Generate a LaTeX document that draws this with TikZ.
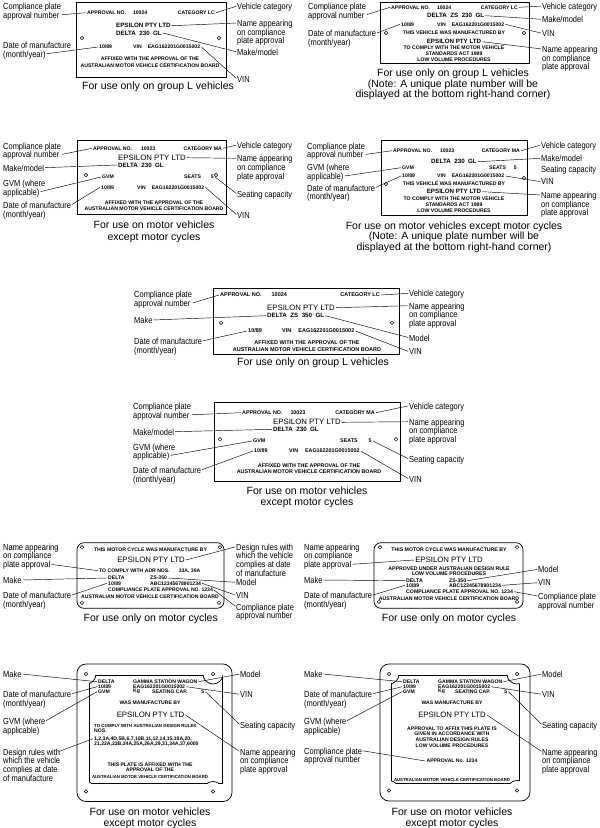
\documentclass[tikz,border=0pt]{standalone}
\usepackage{fontspec}
\setmainfont{Liberation Sans}
\newfontfamily\lblfont[FakeStretch=0.85]{Liberation Sans}
\newcommand\pts{5.15}

\begin{document}
\begin{tikzpicture}[x=1pt, y=-1pt,
  plate/.style={draw, line width=0.75pt},
  hole/.style={draw, line width=0.45pt},
  ptxt/.style={inner sep=1pt, font=\fontsize{\pts}{\pts}\selectfont\bfseries},
  psmall/.style={inner sep=1pt, font=\fontsize{4.3}{5}\selectfont\bfseries},
  pbold/.style={inner sep=1pt, font=\fontsize{6.2}{7}\selectfont\bfseries},
  pbig/.style={inner sep=1pt, font=\fontsize{7.8}{9}\selectfont},
  lbl/.style={anchor=north west, yshift=3.2pt, inner sep=0pt, align=left,
    font=\lblfont\fontsize{8.8}{8.8}\selectfont},
  captxt/.style={anchor=north, yshift=3.8pt, inner sep=0pt, align=center,
    font=\fontsize{10.5}{11.6}\selectfont},
  capnote/.style={font=\fontsize{10.5}{9.3}\selectfont},
  lead/.style={line width=0.45pt, shorten <=0.8pt}]
\useasboundingbox (0,0) rectangle (600,828);

% group L, top left
\begin{scope}[name prefix=gla-]
\draw[plate] (76,2) rectangle (226,77);
\foreach \hx in {82,219} \draw[hole] (\hx,38) circle (1.8pt);
\node[ptxt, anchor=west] (apno) at (86,12.7) {APPROVAL NO.\hspace{7pt}10024};
\node[ptxt, anchor=east] (cat) at (216,12.7) {CATEGORY LC};
\node[pbold, anchor=west] (eps) at (115,25.7) {EPSILON PTY LTD};
\node[pbold, anchor=west] (mm) at (115,33) {DELTA\ \ 230\ \ GL};
\node[ptxt, anchor=west] (dom) at (98,47) {10/89};
\node[ptxt, anchor=west] (vin) at (132,47) {VIN\hspace{6pt}EAG162201G0015002};
\node[ptxt] (aff1) at (150,59) {AFFIXED WITH THE APPROVAL OF THE};
\node[ptxt] (aff2) at (150,66) {AUSTRALIAN MOTOR VEHICLE CERTIFICATION BOARD};
\node[lbl] (cplab) at (3,6) {Compliance plate\\approval number};
\node[lbl] (dmlab) at (3,45) {Date of manufacture\\(month/year)};
\node[lbl] (vclab) at (237,6) {Vehicle category};
\node[lbl] (nmlab) at (237,23) {Name appearing\\on compliance\\plate approval};
\node[lbl] (mklab) at (237,52) {Make/model};
\node[lbl] (vinlab) at (237,79) {VIN};
\node[captxt] (capt) at (158,85) {For use only on group L vehicles};
\draw[lead] ([yshift=-12pt]cplab.north east) -- (apno.west);
\draw[lead] ([xshift=-25pt,yshift=-12pt]dmlab.north east) -- (dom.west);
\draw[lead] ([yshift=-3.2pt]vclab.north west) -- (cat.east);
\draw[lead] ([yshift=-3.2pt]nmlab.north west) -- (eps.east);
\draw[lead] ([yshift=-3.2pt]mklab.north west) -- (mm.east);
\draw[lead] ([yshift=-3.2pt]vinlab.north west) -- (vin.east);
\end{scope}

% group L, top right
\begin{scope}[name prefix=glb-]
\draw[plate] (380,2) rectangle (529,63);
\foreach \hx in {386,524} \draw[hole] (\hx,33) circle (1.8pt);
\node[ptxt, anchor=west] (apno) at (390,7.3) {APPROVAL NO.\hspace{7pt}10024};
\node[ptxt, anchor=east] (cat) at (519,7.3) {CATEGORY LC};
\node[pbold, anchor=west] (mm) at (426,15.7) {DELTA\ \ ZS\ \ 230\ \ GL};
\node[ptxt, anchor=west] (dom) at (400,24.3) {10/89};
\node[ptxt, anchor=west] (vin) at (436,24.3) {VIN\hspace{6pt}EAG162201G0015002};
\node[ptxt] (mfd) at (454,33) {THIS VEHICLE WAS MANUFACTURED BY};
\node[pbold] (eps) at (454,41.7) {EPSILON PTY LTD};
\node[ptxt] (c1) at (454,47.7) {TO COMPLY WITH THE MOTOR VEHICLE};
\node[ptxt] (c2) at (454,53.7) {STANDARDS ACT 1989};
\node[ptxt] (c3) at (454,59.7) {LOW VOLUME PROCEDURES};
\node[lbl] (cplab) at (308,6) {Compliance plate\\approval number};
\node[lbl] (dmlab) at (308,33.3) {Date of manufacture\\(month/year)};
\node[lbl] (vclab) at (542,6) {Vehicle category};
\node[lbl] (mklab) at (542,19.3) {Make/model};
\node[lbl] (vinlab) at (542,33.3) {VIN};
\node[lbl] (nmlab) at (542,49) {Name appearing\\on compliance\\plate approval};
\node[captxt, capnote] (capt) at (453,72.3) {For use only on group L vehicles\\(Note: A unique plate number will be\\displayed at the bottom right-hand corner)};
\draw[lead] ([yshift=-12pt]cplab.north east) -- (apno.west);
\draw[lead] ([yshift=-3.2pt]dmlab.north east) -- (dom.west);
\draw[lead] ([yshift=-3.2pt]vclab.north west) -- (cat.east);
\draw[lead] ([yshift=-3.2pt]mklab.north west) -- (mm.east);
\draw[lead] ([yshift=-3.2pt]vinlab.north west) -- (vin.east);
\draw[lead] ([yshift=-3.2pt]nmlab.north west) -- (eps.east);
\end{scope}

% motor vehicles, second row left
\begin{scope}[name prefix=mva-]
\draw[plate] (77,140.7) rectangle (226,214.3);
\foreach \hx in {86,216} \draw[hole] (\hx,175) circle (1.8pt);
\node[ptxt, anchor=west] (apno) at (92,148.3) {APPROVAL NO.\hspace{9pt}10023};
\node[ptxt, anchor=east] (cat) at (223,148.3) {CATEGORY MA};
\node[pbig, anchor=west] (eps) at (117,157.7) {EPSILON PTY LTD};
\node[pbold, anchor=west] (mm) at (117,165) {DELTA\ \ 230\ \ GL};
\node[ptxt, anchor=west] (gvm) at (101,177) {GVM};
\node[ptxt, anchor=west] (seats) at (183,177) {SEATS\hspace{10pt}5};
\node[ptxt, anchor=west] (dom) at (100,187.3) {10/89};
\node[ptxt, anchor=west] (vin) at (136,187.3) {VIN\hspace{6pt}EAG162201G0015002};
\node[ptxt] (aff1) at (154,202.3) {AFFIXED WITH THE APPROVAL OF THE};
\node[ptxt] (aff2) at (154,208.3) {AUSTRALIAN MOTOR VEHICLE CERTIFICATION BOARD};
\node[lbl] (cplab) at (3,145.7) {Compliance plate\\approval number};
\node[lbl] (mklab) at (3,167.7) {Make/model};
\node[lbl] (gvmlab) at (3,183) {GVM (where\\applicable)};
\node[lbl] (dmlab) at (3,205) {Date of manufacture\\(month/year)};
\node[lbl] (vclab) at (237,145) {Vehicle category};
\node[lbl] (nmlab) at (237,158.3) {Name appearing\\on compliance\\plate approval};
\node[lbl] (sclab) at (237,194) {Seating capacity};
\node[lbl] (vinlab) at (237,215) {VIN};
\node[captxt] (capt) at (154,224.7) {For use on motor vehicles\\except motor cycles};
\draw[lead] ([yshift=-12pt]cplab.north east) -- (apno.west);
\draw[lead] ([yshift=-3.2pt]mklab.north east) -- (mm.west);
\draw[lead] ([xshift=-5.5pt,yshift=-12pt]gvmlab.north east) -- (gvm.west);
\draw[lead] ([yshift=-3.2pt]dmlab.north east) -- (dom.west);
\draw[lead] ([yshift=-3.2pt]vclab.north west) -- (cat.east);
\draw[lead] ([yshift=-3.2pt]nmlab.north west) -- (eps.east);
\draw[lead] ([yshift=-3.2pt]sclab.north west) -- (seats.east);
\draw[lead] ([yshift=-3.2pt]vinlab.north west) -- (vin.east);
\end{scope}

% motor vehicles, second row right
\begin{scope}[name prefix=mvb-]
\draw[plate] (381,140.7) rectangle (527,215);
\draw[hole] (386,184) circle (1.8pt);
\draw[hole] (524,178) circle (1.8pt);
\node[ptxt, anchor=west] (apno) at (392,150.7) {APPROVAL NO.\hspace{8pt}10023};
\node[ptxt, anchor=east] (cat) at (521,150.7) {CATEGORY MA};
\node[pbold, anchor=west] (mm) at (430,161.7) {DELTA\ \ 230\ \ GL};
\node[ptxt, anchor=west] (gvm) at (401,167.7) {GVM};
\node[ptxt, anchor=west] (seats) at (488,167.7) {SEATS\hspace{8pt}5};
\node[ptxt, anchor=west] (dom) at (401,176) {10/89};
\node[ptxt, anchor=west] (vin) at (436,176) {VIN\hspace{6pt}EAG162201G0015002};
\node[ptxt] (mfd) at (454,183.3) {THIS VEHICLE WAS MANUFACTURED BY};
\node[pbold] (eps) at (454,191.7) {EPSILON PTY LTD};
\node[ptxt] (c1) at (454,198.3) {TO COMPLY WITH THE MOTOR VEHICLE};
\node[ptxt] (c2) at (454,204.3) {STANDARDS ACT 1989};
\node[ptxt] (c3) at (454,210.3) {LOW VOLUME PROCEDURES};
\node[lbl] (cplab) at (307,145.7) {Compliance plate\\approval number};
\node[lbl] (gvmlab) at (307,167.3) {GVM (where\\applicable)};
\node[lbl] (dmlab) at (307,187.7) {Date of manufacture\\(month/year)};
\node[lbl] (vclab) at (541,145) {Vehicle category};
\node[lbl] (mklab) at (541,158.3) {Make/model};
\node[lbl] (sclab) at (541,169.3) {Seating capacity};
\node[lbl] (vinlab) at (541,181.7) {VIN};
\node[lbl] (nmlab) at (541,195) {Name appearing\\on compliance\\plate approval};
\node[captxt, capnote] (capt) at (454,225) {For use on motor vehicles except motor cycles\\(Note: A unique plate number will be\\displayed at the bottom right-hand corner)};
\draw[lead] ([yshift=-12pt]cplab.north east) -- (apno.west);
\draw[lead] ([xshift=-5.5pt,yshift=-12pt]gvmlab.north east) -- (gvm.west);
\draw[lead] ([yshift=-3.2pt]dmlab.north east) -- (dom.west);
\draw[lead] ([yshift=-3.2pt]vclab.north west) -- (cat.east);
\draw[lead] ([yshift=-3.2pt]mklab.north west) -- (mm.east);
\draw[lead] ([yshift=-3.2pt]vinlab.north west) -- (vin.east);
\draw[lead] ([yshift=-3.2pt]nmlab.north west) -- (eps.east);
\end{scope}

% group L, third row
\begin{scope}[name prefix=glc-]
\def\pts{5.5}
\draw[plate] (213,288.7) rectangle (399,354);
\foreach \hx in {221,392} \draw[hole] (\hx,322.7) circle (1.8pt);
\node[ptxt, anchor=west] (apno) at (219,295) {APPROVAL NO.\hspace{10pt}10024};
\node[ptxt, anchor=east] (cat) at (381,295) {CATEGORY LC};
\node[pbig, anchor=west] (eps) at (266,307.7) {EPSILON PTY LTD};
\node[pbold, anchor=west] (mm) at (266,315.7) {DELTA\ \ ZS\ \ 350\ \ GL};
\node[ptxt, anchor=west] (dom) at (247,331) {10/89};
\node[ptxt, anchor=west] (vin) at (281,331) {VIN\hspace{7pt}EAG162201G0015002};
\node[ptxt] (aff1) at (307,342.7) {AFFIXED WITH THE APPROVAL OF THE};
\node[ptxt] (aff2) at (307,349.3) {AUSTRALIAN MOTOR VEHICLE CERTIFICATION BOARD};
\node[lbl] (cplab) at (134,294.3) {Compliance plate\\approval number};
\node[lbl] (mklab) at (134,320) {Make};
\node[lbl] (dmlab) at (134,341) {Date of manufacture\\(month/year)};
\node[lbl] (vclab) at (409,293.3) {Vehicle category};
\node[lbl] (nmlab) at (409,305.7) {Name appearing\\on compliance\\plate approval};
\node[lbl] (mdlab) at (409,337.7) {Model};
\node[lbl] (vinlab) at (409,351.7) {VIN};
\node[captxt] (capt) at (313,361.7) {For use only on group L vehicles};
\draw[lead] ([yshift=-12pt]cplab.north east) -- (apno.west);
\draw[lead] ([yshift=-3.2pt]mklab.north east) -- (mm.west);
\draw[lead] ([yshift=-3.2pt]dmlab.north east) -- (dom.west);
\draw[lead] ([yshift=-3.2pt]vclab.north west) -- (cat.east);
\draw[lead] ([yshift=-3.2pt]nmlab.north west) -- (eps.east);
\draw[lead] ([yshift=-3.2pt]mdlab.north west) -- (mm.east);
\draw[lead] ([yshift=-3.2pt]vinlab.north west) -- (vin.east);
\end{scope}

% motor vehicles, fourth row
\begin{scope}[name prefix=mvc-]
\def\pts{5.35}
\draw[plate] (214,402.7) rectangle (400.5,481);
\foreach \hx in {220,396} \draw[hole] (\hx,439.3) circle (1.8pt);
\node[ptxt, anchor=west] (apno) at (241,412.7) {APPROVAL NO.\hspace{8pt}10023};
\node[ptxt, anchor=east] (cat) at (376,412.7) {CATEGORY MA};
\node[pbig, anchor=west] (eps) at (272,422.3) {EPSILON PTY LTD};
\node[pbold, anchor=west] (mm) at (272,429.3) {DELTA\ \ 230\ \ GL};
\node[ptxt, anchor=west] (gvm) at (252,441) {GVM};
\node[ptxt, anchor=west] (seats) at (339,441) {SEATS\hspace{11pt}5};
\node[ptxt, anchor=west] (dom) at (253,451) {10/89};
\node[ptxt, anchor=west] (vin) at (288,451) {VIN\hspace{7pt}EAG162201G0015002};
\node[ptxt] (aff1) at (309,466) {AFFIXED WITH THE APPROVAL OF THE};
\node[ptxt] (aff2) at (309,471.7) {AUSTRALIAN MOTOR VEHICLE CERTIFICATION BOARD};
\node[lbl] (cplab) at (133,406) {Compliance plate\\approval number};
\node[lbl] (mklab) at (133,431.7) {Make/model};
\node[lbl] (gvmlab) at (133,446.7) {GVM (where\\applicable)};
\node[lbl] (dmlab) at (133,470) {Date of manufacture\\(month/year)};
\node[lbl] (vclab) at (409,405.7) {Vehicle category};
\node[lbl] (nmlab) at (409,421.7) {Name appearing\\on compliance\\plate approval};
\node[lbl] (sclab) at (409,459) {Seating capacity};
\node[lbl] (vinlab) at (409,479) {VIN};
\node[captxt] (capt) at (307,490) {For use on motor vehicles\\except motor cycles};
\draw[lead] ([yshift=-12pt]cplab.north east) -- (apno.west);
\draw[lead] ([yshift=-3.2pt]mklab.north east) -- (mm.west);
\draw[lead] ([xshift=-5.5pt,yshift=-12pt]gvmlab.north east) -- (gvm.west);
\draw[lead] ([yshift=-3.2pt]dmlab.north east) -- (dom.west);
\draw[lead] ([yshift=-3.2pt]vclab.north west) -- (cat.east);
\draw[lead] ([yshift=-3.2pt]nmlab.north west) -- (eps.east);
\draw[lead] ([yshift=-3.2pt]sclab.north west) -- (seats.east);
\draw[lead] ([yshift=-3.2pt]vinlab.north west) -- (vin.east);
\end{scope}

% motor cycles, left
\begin{scope}[name prefix=mca-]
\def\pts{5.1}
\draw[plate, rounded corners=7pt] (77,542.7) rectangle (224,608.3);
\foreach \hx/\hy in {82/547.3,220/547.3,82/602.7,219/602.7} \draw[hole] (\hx,\hy) circle (1.8pt);
\node[ptxt] (mfd) at (150.5,549.3) {THIS MOTOR CYCLE WAS MANUFACTURE BY};
\node[pbig] (eps) at (151,560) {EPSILON PTY LTD};
\node[ptxt, anchor=west] (adr) at (98,570.7) {TO COMPLY WITH ADR NOS.\hspace{9pt}33A, 39A};
\node[ptxt, anchor=west] (delta) at (107,578) {DELTA};
\node[ptxt, anchor=west] (zs) at (149,578) {ZS-350};
\node[ptxt, anchor=west] (dom) at (107,583.3) {10/89};
\node[ptxt, anchor=west] (vin) at (149,583.3) {ABC12345678901234};
\node[ptxt, anchor=west] (cpa) at (107,590) {COMPLIANCE PLATE APPROVAL NO. 1234};
\node[ptxt] (amv) at (150,596.7) {AUSTRALIAN MOTOR VEHICLE CERTIFICATION BOARD};
\node[lbl] (nmlab) at (3,546.7) {Name appearing\\on compliance\\plate approval};
\node[lbl] (mklab) at (3,580) {Make};
\node[lbl] (dmlab) at (3,595.3) {Date of manufacture\\(month/year)};
\node[lbl] (drlab) at (236,546.7) {Design rules with\\which the vehicle\\complies at date\\of manufacture};
\node[lbl] (mdlab) at (236,582.3) {Model};
\node[lbl] (vinlab) at (236,595.3) {VIN};
\node[lbl] (cplab) at (236,606.7) {Compliance plate\\approval number};
\node[captxt] (capt) at (150.7,617.7) {For use only on motor cycles};
\draw[lead] ([xshift=-8pt,yshift=-20.8pt]nmlab.north east) -- (adr.west);
\draw[lead] ([yshift=-3.2pt]mklab.north east) -- (delta.west);
\draw[lead] ([yshift=-3.2pt]dmlab.north east) -- (dom.west);
\draw[lead] ([yshift=-3.2pt]drlab.north west) -- (eps.east);
\draw[lead] ([yshift=-3.2pt]mdlab.north west) -- (zs.east);
\draw[lead] ([yshift=-3.2pt]vinlab.north west) -- (vin.east);
\draw[lead] ([yshift=-3.2pt]cplab.north west) -- (cpa.east);
\end{scope}

% motor cycles, right
\begin{scope}[name prefix=mcb-]
\def\pts{5.2}
\draw[plate, rounded corners=7pt] (374,542.7) rectangle (523,608.3);
\foreach \hx/\hy in {380/547.3,517/547.3,379/601.7,517/601.7} \draw[hole] (\hx,\hy) circle (1.8pt);
\node[ptxt] (mfd) at (449,549.3) {THIS MOTOR CYCLE WAS MANUFACTURE BY};
\node[pbig] (eps) at (449,560) {EPSILON PTY LTD};
\node[ptxt] (adr1) at (449,568.3) {APPROVED UNDER AUSTRALIAN DESIGN RULE};
\node[ptxt] (adr2) at (449,573.3) {LOW VOLUME PROCEDURES};
\node[ptxt, anchor=west] (delta) at (405,580.7) {DELTA};
\node[ptxt, anchor=west] (zs) at (448,580.7) {ZS-350};
\node[ptxt, anchor=west] (dom) at (405,585.3) {10/89};
\node[ptxt, anchor=west] (vin) at (448,585.3) {ABC12345678901234};
\node[ptxt, anchor=west] (cpa) at (405,591.7) {COMPLIANCE PLATE APPROVAL NO. 1234};
\node[ptxt] (amv) at (449,599) {AUSTRALIAN MOTOR VEHICLE CERTIFICATION BOARD};
\node[lbl] (nmlab) at (304,546.7) {Name appearing\\on compliance\\plate approval};
\node[lbl] (mklab) at (304,580) {Make};
\node[lbl] (dmlab) at (304,595.3) {Date of manufacture\\(month/year)};
\node[lbl] (mdlab) at (538,569.3) {Model};
\node[lbl] (vinlab) at (538,582.7) {VIN};
\node[lbl] (cplab) at (538,596) {Compliance plate\\approval number};
\node[captxt] (capt) at (449,617.7) {For use only on motor cycles};
\draw[lead] ([xshift=-8pt,yshift=-20.8pt]nmlab.north east) -- (eps.west);
\draw[lead] ([yshift=-3.2pt]mklab.north east) -- (delta.west);
\draw[lead] ([yshift=-3.2pt]dmlab.north east) -- (dom.west);
\draw[lead] ([yshift=-3.2pt]mdlab.north west) -- (zs.east);
\draw[lead] ([yshift=-3.2pt]vinlab.north west) -- (vin.east);
\draw[lead] ([yshift=-3.2pt]cplab.north west) -- (cpa.east);
\end{scope}

% square plate, left
\begin{scope}[name prefix=sqa-]
\def\pts{5.1}
\draw[plate, rounded corners=9pt] (77,664) rectangle (232,801.5);
\begin{scope}[even odd rule]
  \clip (70,655) rectangle (240,810) (86,674) circle (10pt) (213,674) circle (10pt)
    (86,791.5) circle (10pt) (213,791.5) circle (10pt);
  \draw[plate] (89,675) rectangle (222.5,783.5);
\end{scope}
\begin{scope}
  \clip (89,675) rectangle (222.5,783.5);
  \foreach \hx/\hy in {86/674,213/674,86/791.5,213/791.5} \draw[plate] (\hx,\hy) circle (10pt);
\end{scope}
\foreach \hx/\hy in {86/674,213/674,86/791.5,213/791.5} \draw[hole] (\hx,\hy) circle (1.8pt);
\node[ptxt, anchor=west] (delta) at (97,681.7) {DELTA};
\node[ptxt, anchor=west] (gsw) at (132,681.7) {GAMMA STATION WAGON};
\node[ptxt, anchor=west] (dom) at (97,686.7) {10/89};
\node[ptxt, anchor=west] (vin) at (132,686.7) {EAG162201G0015002};
\node[ptxt, anchor=west] (gvm) at (97,691.7) {GVM};
\node[ptxt, anchor=west] (kg) at (132,691.7) {Kg};
\node[ptxt, anchor=west] (scap) at (151,691.7) {SEATING CAP.\hspace{14pt}5};
\node[ptxt] (mfd) at (150,702.7) {WAS MANUFACTURE BY};
\node[pbig] (eps) at (150.5,715) {EPSILON PTY LTD};
\node[psmall, font=\fontsize{4.4}{5}\selectfont\bfseries, anchor=west] (r1) at (93,726) {TO COMPLY WITH AUSTRALIAN DESIGN RULES};
\node[ptxt, anchor=west] (r2) at (93,731) {NOS.};
\node[ptxt, anchor=west] (r3) at (93,738.7) {1,2,3A,4D,5B,6,7,10B,11,12,14,15,18A,20,};
\node[ptxt, anchor=west] (r4) at (93,744) {21,22A,23B,24A,25A,26A,29,31,34A,37,6000};
\node[ptxt] (aff1) at (150,764.3) {THIS PLATE IS AFFIXED WITH THE};
\node[ptxt] (aff2) at (150,770) {APPROVAL OF THE};
\node[psmall] (aff3) at (150,776.7) {AUSTRALIAN MOTOR VEHICLE CERTIFICATION BOARD};
\node[lbl] (mklab) at (3,674) {Make};
\node[lbl] (dmlab) at (3,694) {Date of manufacture\\(month/year)};
\node[lbl] (gvmlab) at (3,721) {GVM (where\\applicable)};
\node[lbl] (drlab) at (3,751.7) {Design rules with\\which the vehicle\\complies at date\\of manufacture};
\node[lbl] (mdlab) at (240,674) {Model};
\node[lbl] (vinlab) at (240,694.3) {VIN};
\node[lbl] (sclab) at (240,724.7) {Seating capacity};
\node[lbl] (nmlab) at (240,751.7) {Name appearing\\on compliance\\plate approval};
\node[captxt] (capt) at (150,811) {For use on motor vehicles\\except motor cycles};
\draw[lead] ([yshift=-3.2pt]mklab.north east) -- (delta.west);
\draw[lead] ([yshift=-3.2pt]dmlab.north east) -- (dom.west);
\draw[lead] ([yshift=-3.2pt]gvmlab.north east) -- (gvm.west);
\draw[lead] ([xshift=-2pt,yshift=-3.2pt]drlab.north east) -- (r3.west);
\draw[lead] ([yshift=-3.2pt]mdlab.north west) -- (gsw.east);
\draw[lead] ([yshift=-3.2pt]vinlab.north west) -- (vin.east);
\draw[lead] ([yshift=-3.2pt]sclab.north west) -- (scap.east);
\draw[lead] ([yshift=-3.2pt]nmlab.north west) -- (eps.east);
\end{scope}

% square plate, right
\begin{scope}[name prefix=sqb-]
\def\pts{5.1}
\draw[plate, rounded corners=9pt] (380,664) rectangle (530,801);
\begin{scope}[even odd rule]
  \clip (372,655) rectangle (540,810) (389,674) circle (10pt) (517,674) circle (10pt)
    (389,790.5) circle (10pt) (517,790.5) circle (10pt);
  \draw[plate] (391,675) rectangle (519,783.5);
\end{scope}
\begin{scope}
  \clip (391,675) rectangle (519,783.5);
  \foreach \hx/\hy in {389/674,517/674,389/790.5,517/790.5} \draw[plate] (\hx,\hy) circle (10pt);
\end{scope}
\foreach \hx/\hy in {389/674,517/674,389/790.5,517/790.5} \draw[hole] (\hx,\hy) circle (1.8pt);
\node[ptxt, anchor=west] (delta) at (402,681.7) {DELTA};
\node[ptxt, anchor=west] (gsw) at (437,681.7) {GAMMA STATION WAGON};
\node[ptxt, anchor=west] (dom) at (402,686.7) {10/89};
\node[ptxt, anchor=west] (vin) at (437,686.7) {EAG162201G0015002};
\node[ptxt, anchor=west] (gvm) at (402,691.7) {GVM};
\node[ptxt, anchor=west] (kg) at (437,691.7) {Kg};
\node[ptxt, anchor=west] (scap) at (454,691.7) {SEATING CAP.\hspace{14pt}5};
\node[ptxt] (mfd) at (452,702.7) {WAS MANUFACTURE BY};
\node[pbig] (eps) at (452,715) {EPSILON PTY LTD};
\node[ptxt] (a1) at (452,728.3) {APPROVAL TO AFFIX THIS PLATE IS};
\node[ptxt] (a2) at (452,734) {GIVEN IN ACCORDANCE WITH};
\node[ptxt] (a3) at (452,740) {AUSTRALIAN DESIGN RULES};
\node[ptxt] (a4) at (452,745.7) {LOW VOLUME PROCEDURES};
\node[ptxt] (apn) at (452,761) {APPROVAL No. 1234};
\node[psmall] (amv) at (452,780) {AUSTRALIAN MOTOR VEHICLE CERTIFICATION BOARD};
\node[lbl] (mklab) at (304,674) {Make};
\node[lbl] (dmlab) at (304,694) {Date of manufacture\\(month/year)};
\node[lbl] (gvmlab) at (304,721) {GVM (where\\applicable)};
\node[lbl] (cplab) at (304,750.7) {Compliance plate\\approval number};
\node[lbl] (mdlab) at (542,674) {Model};
\node[lbl] (vinlab) at (542,694.3) {VIN};
\node[lbl] (sclab) at (542,724.7) {Seating capacity};
\node[lbl] (nmlab) at (542,751.7) {Name appearing\\on compliance\\plate approval};
\node[captxt] (capt) at (452,811) {For use on motor vehicles\\except motor cycles};
\draw[lead] ([yshift=-3.2pt]mklab.north east) -- (delta.west);
\draw[lead] ([yshift=-3.2pt]dmlab.north east) -- (dom.west);
\draw[lead] ([yshift=-3.2pt]gvmlab.north east) -- (gvm.west);
\draw[lead] ([yshift=-3.2pt]cplab.north east) -- (apn.west);
\draw[lead] ([yshift=-3.2pt]mdlab.north west) -- (gsw.east);
\draw[lead] ([yshift=-3.2pt]vinlab.north west) -- (vin.east);
\draw[lead] ([yshift=-3.2pt]sclab.north west) -- (scap.east);
\draw[lead] ([yshift=-3.2pt]nmlab.north west) -- (eps.east);
\end{scope}
\end{tikzpicture}
\end{document}
